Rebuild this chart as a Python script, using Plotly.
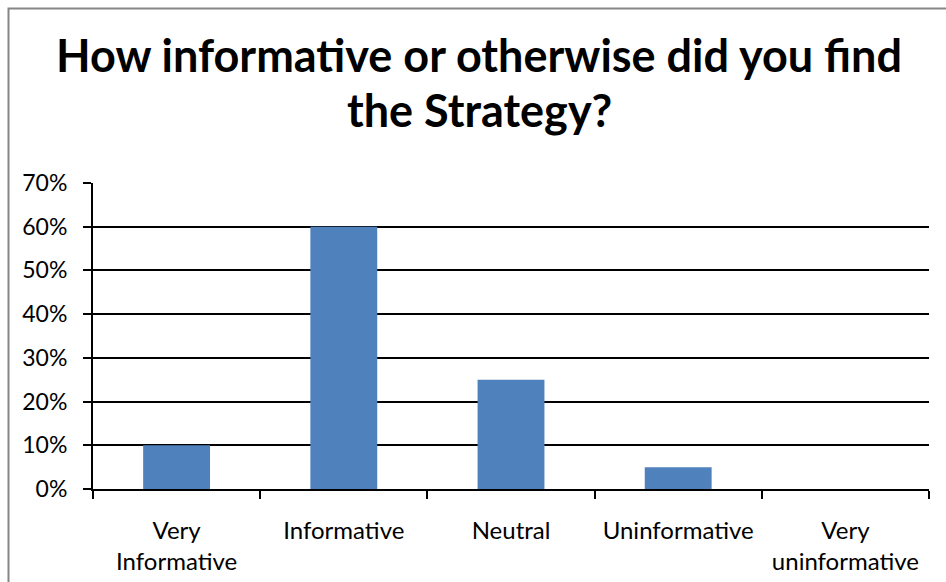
import plotly.graph_objects as go

# Survey responses
categories = ["Very<br>Informative", "Informative", "Neutral", "Uninformative", "Very<br>uninformative"]
shares = [0.10, 0.60, 0.25, 0.05, 0.00]
y_ticks = [0.0, 0.1, 0.2, 0.3, 0.4, 0.5, 0.6, 0.7]
title_lines = ["How informative or otherwise did you find", "the Strategy?"]

W, H = 946, 582
L, R, T, B = 93, 17, 183, 93
FONT = "Lato, 'Noto Sans', sans-serif"

fig = go.Figure(
    go.Bar(x=categories, y=shares, marker=dict(color="#4F81BD", line=dict(width=0)))
)

fig.update_layout(
    width=W, height=H,
    margin=dict(l=L, r=R, t=T, b=B, autoexpand=False),
    paper_bgcolor="white", plot_bgcolor="white",
    bargap=0.6,
    showlegend=False,
    font=dict(family=FONT, color="black", size=24),
)

# Two-line bold title
plot_w = W - L - R
plot_h = H - T - B
for line, yc in zip(title_lines, [55, 110]):
    fig.add_annotation(
        text=f"<b>{line}</b>", xref="paper", yref="paper",
        x=(479 - L) / plot_w, y=(H - B - yc) / plot_h,
        xanchor="center", yanchor="middle", showarrow=False,
        font=dict(size=45, family=FONT, color="black"),
    )

fig.update_xaxes(
    type="category",
    showline=True, linecolor="black", linewidth=2,
    ticks="outside", tickson="boundaries", ticklen=8, tickwidth=2, tickcolor="black",
    showgrid=False,
    tickfont=dict(size=24),
    tickangle=0, automargin=False,
    ticklabelstandoff=19,
)
fig.update_yaxes(
    range=[0, 0.7],
    tickvals=y_ticks, tickformat=".0%",
    showline=True, linecolor="black", linewidth=2,
    ticks="outside", ticklen=8, tickwidth=2, tickcolor="black",
    showgrid=True, gridcolor="black", gridwidth=1.8,
    zeroline=False, automargin=False,
    tickfont=dict(size=23),
    ticklabelstandoff=11,
)

# Chart frame (grey border around the whole chart)
x0 = (8.5 - L) / plot_w
y1 = (H - B - 8.5) / plot_h
fig.add_shape(type="path", xref="paper", yref="paper",
              path=f"M {x0} -1 L {x0} {y1} L 1.2 {y1}",
              line=dict(color="#868686", width=2))

fig.write_html("out.html")
